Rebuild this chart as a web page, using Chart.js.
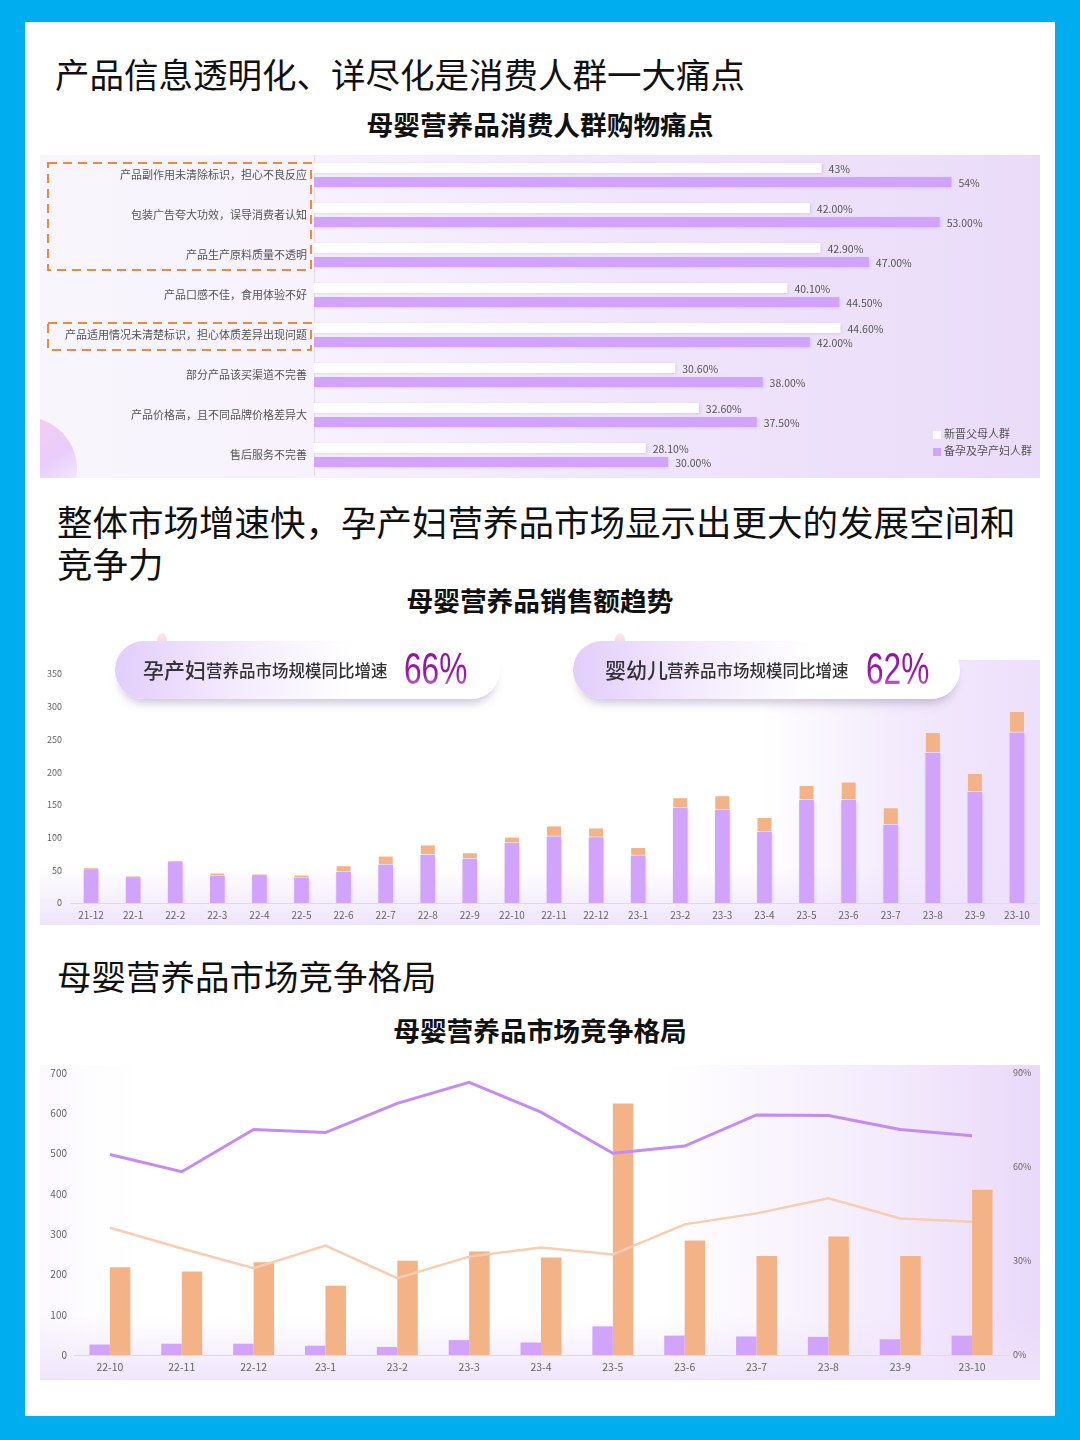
<!DOCTYPE html>
<html lang="zh-CN">
<head>
<meta charset="utf-8">
<title>母婴营养品</title>
<script src="https://cdn.jsdelivr.net/npm/chart.js@4.4.0/dist/chart.umd.min.js"></script>
<style>
  html, body { margin: 0; padding: 0; }
  body {
    width: 1080px; height: 1440px; position: relative; overflow: hidden;
    background: #00adef;
    font-family: 'Noto Sans CJK SC', 'Noto Sans', sans-serif;
  }
  .card { position: absolute; left: 25px; top: 22px; width: 1030px; height: 1394px; background: #fff; }
  .heading { position: absolute; font-size: 34.5px; line-height: 42px; color: #111; font-weight: 400; }
  .subtitle { position: absolute; left: 25px; width: 1030px; text-align: center; font-size: 26.7px; line-height: 32px; font-weight: 700; color: #111; }
  .panel { position: absolute; }
  #panel1 { left: 40px; top: 155px; width: 1000px; height: 323px;
    background: linear-gradient(90deg, #f8f5fc 0%, #f7f2fc 27%, #efe5fb 60%, #eadcf9 100%); }
  #panel2 { left: 40px; top: 660px; width: 1000px; height: 265px;
    background: linear-gradient(180deg, rgba(255,255,255,0) 78%, rgba(236,224,250,0.85) 100%),
                linear-gradient(90deg, #fff 0%, #fff 72%, #f3eafc 86%, #ecdffb 100%); }
  #panel3 { left: 40px; top: 1065px; width: 1000px; height: 315px;
    background: linear-gradient(180deg, rgba(255,255,255,0) 80%, rgba(238,227,251,0.9) 100%),
                linear-gradient(90deg, #fbf9fe 0%, #fff 10%, #fff 62%, #f3eafc 85%, #ead9fa 100%); }
  .legend { position: absolute; font-size: 11px; color: #555; line-height: 14px; }
  .legend i { display: inline-block; width: 8px; height: 8px; margin-right: 3px; vertical-align: -0.5px; }
  .badge {
    position: absolute; top: 641px; height: 58px; border-radius: 29px;
    background: linear-gradient(90deg, #e2cdfb 0%, #f3eafe 30%, #fff 62%, #fff 100%);
    box-shadow: 0 9px 10px -5px rgba(110, 90, 140, 0.35);
  }
  .badge .big { position: absolute; top: 13px; font-size: 21px; line-height: 30px; color: #333; font-weight: 500; }
  .badge .small { position: absolute; top: 16px; font-size: 16.5px; line-height: 26px; color: #333; font-weight: 500; }
  .badge .pct {
    position: absolute; top: 2px; font-size: 44px; line-height: 52px; font-family: 'Liberation Sans', Roboto, sans-serif;
    transform: scaleX(0.72); transform-origin: left center;
    background: linear-gradient(180deg, #8e0f9f 0%, #9c1aaa 62%, #e2b4ec 100%);
    -webkit-background-clip: text; background-clip: text; color: transparent;
  }
  .pin { position: absolute; width: 10px; height: 16px; border-radius: 50%;
    background: linear-gradient(180deg, #fbe3f1, #f3b9dc); opacity: 0.8; }
</style>
</head>
<body>
<div class="card"></div>

<div class="heading" style="left:55px; top:52px;">产品信息透明化、详尽化是消费人群一大痛点</div>
<div class="subtitle" style="top:108px;">母婴营养品消费人群购物痛点</div>
<div class="panel" id="panel1"><canvas id="painChart"></canvas></div>
<div class="legend" style="left:933px; top:426px;"><i style="background:#fff"></i>新晋父母人群</div>
<div class="legend" style="left:933px; top:443px;"><i style="background:#d2a3fa"></i>备孕及孕产妇人群</div>

<div class="heading" style="left:57px; top:500px; width:975px; font-size:35.5px;">整体市场增速快，孕产妇营养品市场显示出更大的发展空间和竞争力</div>
<div class="subtitle" style="top:584px;">母婴营养品销售额趋势</div>
<div class="panel" id="panel2"><canvas id="salesChart"></canvas></div>
<div class="pin" style="left:157px; top:633px;"></div>
<div class="badge" style="left:115px; width:385px;">
  <span class="big" style="left:28px;">孕产妇</span>
  <span class="small" style="left:91px;">营养品市场规模同比增速</span>
  <span class="pct" style="left:289px;">66%</span>
</div>
<div class="pin" style="left:615px; top:633px;"></div>
<div class="badge" style="left:573px; width:387px;">
  <span class="big" style="left:32px;">婴幼儿</span>
  <span class="small" style="left:94px;">营养品市场规模同比增速</span>
  <span class="pct" style="left:293px;">62%</span>
</div>

<div class="heading" style="left:57px; top:954px;">母婴营养品市场竞争格局</div>
<div class="subtitle" style="top:1014px;">母婴营养品市场竞争格局</div>
<div class="panel" id="panel3"><canvas id="compChart"></canvas></div>

<script>
const FONT = "'Noto Sans CJK SC', 'Noto Sans', sans-serif";
Chart.defaults.font.family = FONT;
Chart.defaults.animation = false;

// ---- chart 1: pain points ----
const painCategories = [
  '产品副作用未清除标识，担心不良反应',
  '包装广告夸大功效，误导消费者认知',
  '产品生产原料质量不透明',
  '产品口感不佳，食用体验不好',
  '产品适用情况未清楚标识，担心体质差异出现问题',
  '部分产品该买渠道不完善',
  '产品价格高，且不同品牌价格差异大',
  '售后服务不完善'
];
const newParents = [43, 42.0, 42.9, 40.1, 44.6, 30.6, 32.6, 28.1];
const pregnantGroup = [54, 53.0, 47.0, 44.5, 42.0, 38.0, 37.5, 30.0];
const newParentsText = ['43%', '42.00%', '42.90%', '40.10%', '44.60%', '30.60%', '32.60%', '28.10%'];
const pregnantText = ['54%', '53.00%', '47.00%', '44.50%', '42.00%', '38.00%', '37.50%', '30.00%'];

// ---- chart 2: sales trend ----
const monthLabels = ['21-12', '22-1', '22-2', '22-3', '22-4', '22-5', '22-6', '22-7', '22-8', '22-9', '22-10',
  '22-11', '22-12', '23-1', '23-2', '23-3', '23-4', '23-5', '23-6', '23-7', '23-8', '23-9', '23-10'];
const salesPurple = [51, 39, 62, 41, 42, 38, 47, 58, 73, 67, 91, 101, 100, 72, 145, 142, 108, 157, 157, 119, 229, 169, 260];
const salesOrange = [2, 1.5, 2, 4, 1.5, 4, 9, 13, 15, 9, 9, 16, 14, 12, 15, 21, 22, 22, 27, 26, 31, 28, 32];
const salesTicks = [0, 50, 100, 150, 200, 250, 300, 350];

// ---- chart 3: competition ----
const compLabels = ['22-10', '22-11', '22-12', '23-1', '23-2', '23-3', '23-4', '23-5', '23-6', '23-7', '23-8', '23-9', '23-10'];
const compPurpleBars = [26, 28, 28, 23, 20, 37, 31, 71, 48, 46, 45, 39, 48];
const compOrangeBars = [218, 207, 230, 172, 234, 257, 242, 624, 284, 246, 294, 246, 410];
const compPurpleLine = [64, 58.5, 72, 71, 80.3, 87, 77.5, 64.4, 66.7, 76.6, 76.4, 72, 70];
const compPeachLine = [40.6, 34, 27.7, 34.9, 24.5, 31.4, 34.3, 32.1, 41.7, 45.2, 50, 43.6, 42.5];

const PURPLE = '#d2a3fa';
const ORANGE = '#f4b386';

// fixed axis sizes, no extra label padding
function fixWidth(w) {
  return scale => { scale.width = w; scale.paddingTop = 0; scale.paddingBottom = 0; };
}
function fixHeight(h) {
  return scale => { scale.height = h; scale.paddingLeft = 0; scale.paddingRight = 0; };
}

// bar value texts
const painValueLabels = {
  id: 'painValueLabels',
  afterDatasetsDraw(chart) {
    const ctx = chart.ctx;
    const texts = [newParentsText, pregnantText];
    ctx.save();
    ctx.font = '10.5px ' + FONT;
    ctx.fillStyle = '#555';
    ctx.textBaseline = 'middle';
    chart.data.datasets.forEach((ds, i) => {
      chart.getDatasetMeta(i).data.forEach((bar, j) => {
        ctx.fillText(texts[i][j], bar.x + 7, bar.y + 1);
      });
    });
    ctx.restore();
  }
};

// soft shadow under the bars
const barShadow = {
  id: 'barShadow',
  beforeDatasetsDraw(chart) {
    const ctx = chart.ctx;
    ctx.save();
    ctx.shadowColor = 'rgba(110, 80, 150, 0.22)';
    ctx.shadowBlur = 3;
    ctx.shadowOffsetX = 1;
    ctx.shadowOffsetY = 1;
  },
  afterDatasetsDraw(chart) {
    chart.ctx.restore();
  }
};

// orange dashed frames + corner ball
const painDecor = {
  id: 'painDecor',
  beforeDraw(chart) {
    const ctx = chart.ctx;
    ctx.save();
    ctx.beginPath();
    ctx.rect(0, 0, chart.width, chart.height);
    ctx.clip();
    const g = ctx.createLinearGradient(0, 262, 40, 320);
    g.addColorStop(0, '#f3cdf2');
    g.addColorStop(0.6, '#e9cdfb');
    g.addColorStop(1, '#f1e6fc');
    ctx.fillStyle = g;
    ctx.beginPath();
    ctx.arc(-15, 314, 52, 0, Math.PI * 2);
    ctx.fill();
    ctx.restore();
  },
  afterDraw(chart) {
    const ctx = chart.ctx;
    const y = chart.scales.y;
    ctx.save();
    ctx.setLineDash([9, 6]);
    ctx.strokeStyle = '#f0893b';
    ctx.lineWidth = 2;
    const top1 = y.getPixelForValue(0) - 12;
    ctx.strokeRect(8, top1, 263, y.getPixelForValue(2) + 15 - top1);
    const top2 = y.getPixelForValue(4) - 12;
    ctx.strokeRect(8, top2, 263, 27);
    ctx.restore();
  }
};

new Chart(document.getElementById('painChart'), {
  type: 'bar',
  data: {
    labels: painCategories,
    datasets: [
      { label: '新晋父母人群', data: newParents, backgroundColor: '#ffffff' },
      { label: '备孕及孕产妇人群', data: pregnantGroup, backgroundColor: PURPLE }
    ]
  },
  options: {
    indexAxis: 'y',
    responsive: true,
    maintainAspectRatio: false,
    layout: { padding: { top: 0, bottom: 3, left: 0, right: 0 } },
    datasets: { bar: { categoryPercentage: 0.7, barPercentage: 0.72 } },
    plugins: { legend: { display: false }, tooltip: { enabled: false } },
    scales: {
      x: { display: false, min: 0, max: 61.5 },
      y: {
        afterFit: fixWidth(274),
        grid: { display: false, drawTicks: false },
        border: { display: true, color: '#e2dbe9' },
        ticks: { font: { size: 11 }, color: '#555', padding: 7 }
      }
    }
  },
  plugins: [painDecor, barShadow, painValueLabels]
});

new Chart(document.getElementById('salesChart'), {
  type: 'bar',
  data: {
    labels: monthLabels,
    datasets: [
      { data: salesPurple, backgroundColor: PURPLE, barThickness: 14 },
      { data: salesOrange, backgroundColor: ORANGE, barThickness: 14,
        borderColor: '#ffffff', borderWidth: { top: 0, left: 0, right: 0, bottom: 1.5 }, borderSkipped: false }
    ]
  },
  options: {
    responsive: true,
    maintainAspectRatio: false,
    layout: { padding: { top: 14, right: 2, left: 0, bottom: 0 } },
    plugins: { legend: { display: false }, tooltip: { enabled: false } },
    scales: {
      x: {
        stacked: true,
        afterFit: fixHeight(22),
        grid: { display: false, drawTicks: false },
        border: { color: '#dedbe3' },
        ticks: { font: { size: 10 }, color: '#666', padding: 6, maxRotation: 0, autoSkip: false }
      },
      y: {
        stacked: true,
        min: 0, max: 350,
        afterFit: fixWidth(30),
        afterBuildTicks(scale) { scale.ticks = salesTicks.map(v => ({ value: v })); },
        grid: { display: false, drawTicks: false },
        border: { display: false },
        ticks: { font: { size: 9 }, color: '#666', padding: 8 }
      }
    }
  },
  plugins: [barShadow]
});

new Chart(document.getElementById('compChart'), {
  type: 'bar',
  data: {
    labels: compLabels,
    datasets: [
      { type: 'line', data: compPurpleLine, yAxisID: 'y1', borderColor: '#c58bf5', borderWidth: 3,
        pointRadius: 0, tension: 0, order: 0 },
      { type: 'line', data: compPeachLine, yAxisID: 'y1', borderColor: '#f8cdb0', borderWidth: 2.5,
        pointRadius: 0, tension: 0, order: 0 },
      { data: compPurpleBars, backgroundColor: PURPLE, yAxisID: 'y', order: 1 },
      { data: compOrangeBars, backgroundColor: ORANGE, yAxisID: 'y', order: 1 }
    ]
  },
  options: {
    responsive: true,
    maintainAspectRatio: false,
    layout: { padding: { top: 8, right: 0, left: 0, bottom: 0 } },
    datasets: { bar: { categoryPercentage: 0.57, barPercentage: 1.0 } },
    plugins: { legend: { display: false }, tooltip: { enabled: false } },
    scales: {
      x: {
        afterFit: fixHeight(25),
        grid: { display: false, drawTicks: false },
        border: { color: '#dedbe3' },
        ticks: { font: { size: 10.5 }, color: '#666', padding: 6, maxRotation: 0 }
      },
      y: {
        position: 'left',
        min: 0, max: 700,
        afterFit: fixWidth(34),
        grid: { display: false, drawTicks: false },
        border: { display: false },
        ticks: { stepSize: 100, font: { size: 10 }, color: '#666', padding: 7 }
      },
      y1: {
        position: 'right',
        min: 0, max: 90,
        afterFit: fixWidth(32),
        grid: { display: false, drawTicks: false },
        border: { display: false },
        ticks: { stepSize: 30, font: { size: 9 }, color: '#666', padding: 5, callback: v => v + '%' }
      }
    }
  }
});
</script>
</body>
</html>
